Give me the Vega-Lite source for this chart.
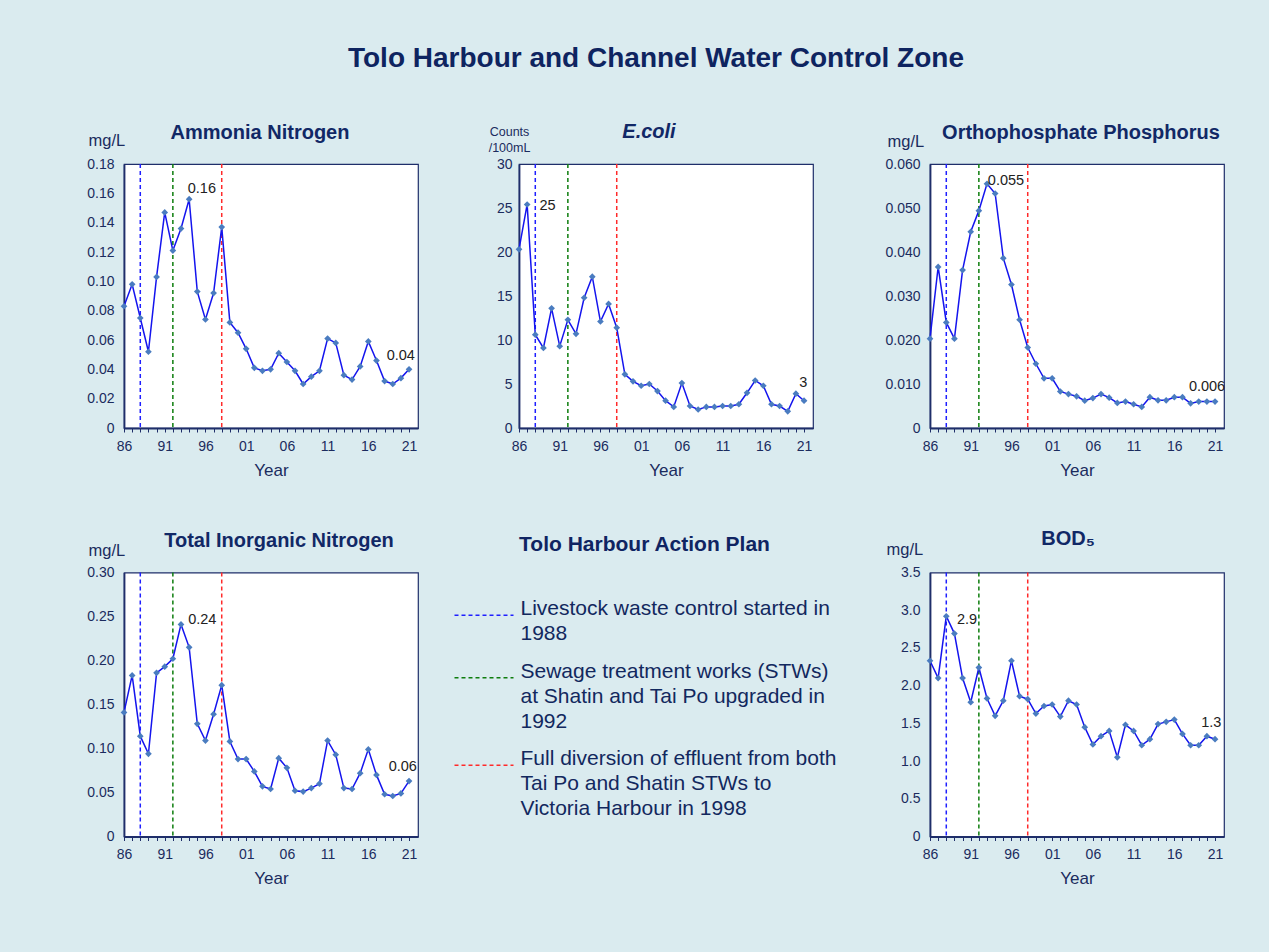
{
  "$schema": "https://vega.github.io/schema/vega-lite/v6.json",
  "background": "#daebef",
  "autosize": {"type": "pad"},
  "padding": {"left": 86, "top": 44, "right": 48, "bottom": 70},
  "title": {"text": "Tolo Harbour and Channel Water Control Zone", "fontSize": 28, "offset": 48.7, "frame": "bounds", "dx": 0, "color": "#0e2460"},
  "datasets": {
    "events": [
      {"year": 1988, "event": "Livestock waste control started in\n1988"},
      {"year": 1992, "event": "Sewage treatment works (STWs)\nat Shatin and Tai Po upgraded in\n1992"},
      {"year": 1998, "event": "Full diversion of effluent from both\nTai Po and Shatin STWs to\nVictoria Harbour in 1998"}
    ],
    "nh3": [
      {"year": 1986, "value": 0.083}, {"year": 1987, "value": 0.098}, {"year": 1988, "value": 0.075}, {"year": 1989, "value": 0.052},
      {"year": 1990, "value": 0.103}, {"year": 1991, "value": 0.147}, {"year": 1992, "value": 0.121}, {"year": 1993, "value": 0.136},
      {"year": 1994, "value": 0.156, "note": "0.16"}, {"year": 1995, "value": 0.093}, {"year": 1996, "value": 0.074}, {"year": 1997, "value": 0.092},
      {"year": 1998, "value": 0.137}, {"year": 1999, "value": 0.072}, {"year": 2000, "value": 0.065}, {"year": 2001, "value": 0.054},
      {"year": 2002, "value": 0.041}, {"year": 2003, "value": 0.039}, {"year": 2004, "value": 0.040}, {"year": 2005, "value": 0.051},
      {"year": 2006, "value": 0.045}, {"year": 2007, "value": 0.039}, {"year": 2008, "value": 0.030}, {"year": 2009, "value": 0.035},
      {"year": 2010, "value": 0.039}, {"year": 2011, "value": 0.061}, {"year": 2012, "value": 0.058}, {"year": 2013, "value": 0.036},
      {"year": 2014, "value": 0.033}, {"year": 2015, "value": 0.042}, {"year": 2016, "value": 0.059}, {"year": 2017, "value": 0.046},
      {"year": 2018, "value": 0.032}, {"year": 2019, "value": 0.030}, {"year": 2020, "value": 0.034}, {"year": 2021, "value": 0.040, "note": "0.04"}
    ],
    "ecoli": [
      {"year": 1986, "value": 20.3}, {"year": 1987, "value": 25.4, "note": "25"}, {"year": 1988, "value": 10.6}, {"year": 1989, "value": 9.1},
      {"year": 1990, "value": 13.6}, {"year": 1991, "value": 9.3}, {"year": 1992, "value": 12.3}, {"year": 1993, "value": 10.7},
      {"year": 1994, "value": 14.8}, {"year": 1995, "value": 17.2}, {"year": 1996, "value": 12.1}, {"year": 1997, "value": 14.1},
      {"year": 1998, "value": 11.4}, {"year": 1999, "value": 6.1}, {"year": 2000, "value": 5.3}, {"year": 2001, "value": 4.8},
      {"year": 2002, "value": 5.0}, {"year": 2003, "value": 4.2}, {"year": 2004, "value": 3.1}, {"year": 2005, "value": 2.4},
      {"year": 2006, "value": 5.1}, {"year": 2007, "value": 2.5}, {"year": 2008, "value": 2.1}, {"year": 2009, "value": 2.4},
      {"year": 2010, "value": 2.4}, {"year": 2011, "value": 2.5}, {"year": 2012, "value": 2.5}, {"year": 2013, "value": 2.7},
      {"year": 2014, "value": 4.0}, {"year": 2015, "value": 5.4}, {"year": 2016, "value": 4.8}, {"year": 2017, "value": 2.7},
      {"year": 2018, "value": 2.5}, {"year": 2019, "value": 1.9}, {"year": 2020, "value": 3.9}, {"year": 2021, "value": 3.1, "note": "3"}
    ],
    "po4": [
      {"year": 1986, "value": 0.0203}, {"year": 1987, "value": 0.0366}, {"year": 1988, "value": 0.0240}, {"year": 1989, "value": 0.0203},
      {"year": 1990, "value": 0.0359}, {"year": 1991, "value": 0.0446}, {"year": 1992, "value": 0.0494}, {"year": 1993, "value": 0.0555, "note": "0.055"},
      {"year": 1994, "value": 0.0533}, {"year": 1995, "value": 0.0386}, {"year": 1996, "value": 0.0326}, {"year": 1997, "value": 0.0246},
      {"year": 1998, "value": 0.0183}, {"year": 1999, "value": 0.0146}, {"year": 2000, "value": 0.0113}, {"year": 2001, "value": 0.0113},
      {"year": 2002, "value": 0.0083}, {"year": 2003, "value": 0.0077}, {"year": 2004, "value": 0.0072}, {"year": 2005, "value": 0.0062},
      {"year": 2006, "value": 0.0068}, {"year": 2007, "value": 0.0077}, {"year": 2008, "value": 0.0069}, {"year": 2009, "value": 0.0057},
      {"year": 2010, "value": 0.0060}, {"year": 2011, "value": 0.0054}, {"year": 2012, "value": 0.0048}, {"year": 2013, "value": 0.0070},
      {"year": 2014, "value": 0.0063}, {"year": 2015, "value": 0.0063}, {"year": 2016, "value": 0.0070}, {"year": 2017, "value": 0.0070},
      {"year": 2018, "value": 0.0056}, {"year": 2019, "value": 0.0060}, {"year": 2020, "value": 0.0060}, {"year": 2021, "value": 0.0060, "note": "0.006"}
    ],
    "tin": [
      {"year": 1986, "value": 0.141}, {"year": 1987, "value": 0.183}, {"year": 1988, "value": 0.114}, {"year": 1989, "value": 0.094},
      {"year": 1990, "value": 0.186}, {"year": 1991, "value": 0.193}, {"year": 1992, "value": 0.202}, {"year": 1993, "value": 0.241, "note": "0.24"},
      {"year": 1994, "value": 0.215}, {"year": 1995, "value": 0.128}, {"year": 1996, "value": 0.109}, {"year": 1997, "value": 0.139},
      {"year": 1998, "value": 0.172}, {"year": 1999, "value": 0.108}, {"year": 2000, "value": 0.088}, {"year": 2001, "value": 0.088},
      {"year": 2002, "value": 0.074}, {"year": 2003, "value": 0.057}, {"year": 2004, "value": 0.054}, {"year": 2005, "value": 0.089},
      {"year": 2006, "value": 0.078}, {"year": 2007, "value": 0.052}, {"year": 2008, "value": 0.051}, {"year": 2009, "value": 0.055},
      {"year": 2010, "value": 0.060}, {"year": 2011, "value": 0.109}, {"year": 2012, "value": 0.093}, {"year": 2013, "value": 0.055},
      {"year": 2014, "value": 0.054}, {"year": 2015, "value": 0.072}, {"year": 2016, "value": 0.099}, {"year": 2017, "value": 0.070},
      {"year": 2018, "value": 0.048}, {"year": 2019, "value": 0.046}, {"year": 2020, "value": 0.049}, {"year": 2021, "value": 0.063, "note": "0.06"}
    ],
    "bod": [
      {"year": 1986, "value": 2.33}, {"year": 1987, "value": 2.10}, {"year": 1988, "value": 2.92, "note": "2.9"}, {"year": 1989, "value": 2.69},
      {"year": 1990, "value": 2.10}, {"year": 1991, "value": 1.78}, {"year": 1992, "value": 2.24}, {"year": 1993, "value": 1.83},
      {"year": 1994, "value": 1.60}, {"year": 1995, "value": 1.80}, {"year": 1996, "value": 2.33}, {"year": 1997, "value": 1.86},
      {"year": 1998, "value": 1.82}, {"year": 1999, "value": 1.63}, {"year": 2000, "value": 1.73}, {"year": 2001, "value": 1.75},
      {"year": 2002, "value": 1.59}, {"year": 2003, "value": 1.80}, {"year": 2004, "value": 1.75}, {"year": 2005, "value": 1.45},
      {"year": 2006, "value": 1.22}, {"year": 2007, "value": 1.33}, {"year": 2008, "value": 1.40}, {"year": 2009, "value": 1.05},
      {"year": 2010, "value": 1.48}, {"year": 2011, "value": 1.40}, {"year": 2012, "value": 1.21}, {"year": 2013, "value": 1.29},
      {"year": 2014, "value": 1.49}, {"year": 2015, "value": 1.52}, {"year": 2016, "value": 1.55}, {"year": 2017, "value": 1.36},
      {"year": 2018, "value": 1.21}, {"year": 2019, "value": 1.21}, {"year": 2020, "value": 1.33}, {"year": 2021, "value": 1.29, "note": "1.3"}
    ]
  },
  "config": {
    "font": "Liberation Sans",
    "view": {"fill": "white", "stroke": "#1f2e6a", "strokeWidth": 1.2},
    "title": {"font": "Liberation Sans", "fontSize": 20, "fontWeight": "bold", "color": "#112866", "baseline": "alphabetic", "frame": "group", "anchor": "middle"},
    "axis": {"domainColor": "#1f2e6a", "domainWidth": 1.8, "tickColor": "#1f2e6a", "tickWidth": 1, "labelColor": "#1b2b5e", "titleColor": "#1b2b5e", "labelFont": "Liberation Sans", "titleFont": "Liberation Sans", "labelFontSize": 14, "titleFontSize": 17, "titleFontWeight": "normal", "grid": false},
    "axisY": {"ticks": false, "labelPadding": 10, "labelOverlap": false, "titleAngle": 0, "titleAlign": "left", "titleBaseline": "alphabetic", "titleFontSize": 16.5},
    "text": {"font": "Liberation Sans", "fontSize": 14.5, "color": "#222222", "baseline": "alphabetic", "align": "center"},
    "legend": {"padding": 0, "titleFont": "Liberation Sans", "titleFontSize": 21, "titleFontWeight": "bold", "titleColor": "#0f2462", "titleAnchor": "middle", "titleLimit": 600, "titlePadding": 30, "labelFont": "Liberation Sans", "labelFontSize": 21, "labelColor": "#12285e", "labelLimit": 600, "labelOffset": 6, "labelBaseline": "alphabetic", "symbolType": "stroke", "symbolSize": 3481, "symbolStrokeWidth": 1.5, "symbolDash": [4, 3], "rowPadding": 2.5, "direction": "vertical"}
  },
  "resolve": {"scale": {"color": "shared"}, "legend": {"color": "shared"}},
  "bounds": "flush",
  "align": "each",
  "columns": 3,
  "spacing": {"column": 101, "row": 144.5},
  "concat": [
    {
      "width": 294, "height": 264,
      "title": {"text": "Ammonia Nitrogen", "dx": -11, "offset": -11.1},
      "encoding": {"x": {"field": "year", "type": "quantitative", "scale": {"domain": [1986, 2022.1], "nice": false, "zero": false}, "axis": {"values": [1986,1987,1988,1989,1990,1991,1992,1993,1994,1995,1996,1997,1998,1999,2000,2001,2002,2003,2004,2005,2006,2007,2008,2009,2010,2011,2012,2013,2014,2015,2016,2017,2018,2019,2020,2021], "tickCount": 100, "labelExpr": "(datum.value - 1986) % 5 == 0 ? slice(format(datum.value, 'd'), 2) : ''", "title": "Year", "titleY": 47.4, "titleBaseline": "alphabetic", "tickSize": 4, "labelPadding": 7, "labelOverlap": false, "labelFlush": false, "labelBound": false}}},
      "layer": [
        {"data": {"name": "events"}, "mark": {"type": "rule", "strokeDash": [4, 3], "strokeWidth": 1.5}, "encoding": {"color": {"field": "event", "type": "nominal", "title": "Tolo Harbour Action Plan", "scale": {"domain": ["Livestock waste control started in\n1988", "Sewage treatment works (STWs)\nat Shatin and Tai Po upgraded in\n1992", "Full diversion of effluent from both\nTai Po and Shatin STWs to\nVictoria Harbour in 1998"], "range": ["#1f1fff", "#0d7d0d", "#ff2a2a"]}, "legend": {"orient": "none", "legendX": 329.5, "legendY": 369.8, "labelExpr": "split(datum.label, '\\n')", "encode": {"labels": {"update": {"lineHeight": {"value": 25}}}}}}}},
        {"data": {"name": "nh3"}, "mark": {"type": "line", "color": "#1414ee", "strokeWidth": 1.5}, "encoding": {"y": {"field": "value", "type": "quantitative", "scale": {"domain": [0, 0.18], "nice": false}, "axis": {"values": [0, 0.02, 0.04, 0.06, 0.08, 0.1, 0.12, 0.14, 0.16, 0.18], "tickCount": 100, "labelOverlap": false, "labelExpr": "datum.value == 0 ? '0' : format(datum.value, '.2f')", "title": "mg/L", "titleX": -36, "titleY": -19}}}},
        {"data": {"name": "nh3"}, "mark": {"type": "point", "shape": "diamond", "filled": true, "size": 45, "color": "#4a7cc0", "opacity": 1}, "encoding": {"y": {"field": "value", "type": "quantitative", "scale": {"domain": [0, 0.18], "nice": false}}}},
        {"data": {"name": "nh3"}, "transform": [{"filter": "datum.year == 1994"}], "mark": {"type": "text", "dx": 12.7, "dy": -6.4}, "encoding": {"y": {"field": "value", "type": "quantitative", "scale": {"domain": [0, 0.18], "nice": false}}, "text": {"field": "note"}}},
        {"data": {"name": "nh3"}, "transform": [{"filter": "datum.year == 2021"}], "mark": {"type": "text", "dx": -8.3, "dy": -9.6}, "encoding": {"y": {"field": "value", "type": "quantitative", "scale": {"domain": [0, 0.18], "nice": false}}, "text": {"field": "note"}}}
      ]
    },
    {
      "width": 294, "height": 264,
      "title": {"text": "E.coli", "dx": -17, "fontStyle": "italic", "offset": -17},
      "encoding": {"x": {"field": "year", "type": "quantitative", "scale": {"domain": [1986, 2022.1], "nice": false, "zero": false}, "axis": {"values": [1986,1987,1988,1989,1990,1991,1992,1993,1994,1995,1996,1997,1998,1999,2000,2001,2002,2003,2004,2005,2006,2007,2008,2009,2010,2011,2012,2013,2014,2015,2016,2017,2018,2019,2020,2021], "tickCount": 100, "labelExpr": "(datum.value - 1986) % 5 == 0 ? slice(format(datum.value, 'd'), 2) : ''", "title": "Year", "titleY": 47.4, "titleBaseline": "alphabetic", "tickSize": 4, "labelPadding": 7, "labelOverlap": false, "labelFlush": false, "labelBound": false}}},
      "layer": [
        {"data": {"name": "events"}, "mark": {"type": "rule", "strokeDash": [4, 3], "strokeWidth": 1.5}, "encoding": {"color": {"field": "event", "type": "nominal", "title": "Tolo Harbour Action Plan", "scale": {"domain": ["Livestock waste control started in\n1988", "Sewage treatment works (STWs)\nat Shatin and Tai Po upgraded in\n1992", "Full diversion of effluent from both\nTai Po and Shatin STWs to\nVictoria Harbour in 1998"], "range": ["#1f1fff", "#0d7d0d", "#ff2a2a"]}, "legend": {"orient": "none", "legendX": 329.5, "legendY": 369.8, "labelExpr": "split(datum.label, '\\n')", "encode": {"labels": {"update": {"lineHeight": {"value": 25}}}}}}}},
        {"data": {"name": "ecoli"}, "mark": {"type": "line", "color": "#1414ee", "strokeWidth": 1.5}, "encoding": {"y": {"field": "value", "type": "quantitative", "scale": {"domain": [0, 30], "nice": false}, "axis": {"values": [0, 5, 10, 15, 20, 25, 30], "tickCount": 100, "format": "d", "labelOverlap": false, "labelPadding": 7, "title": ["Counts", "/100mL"], "titleFontSize": 12.5, "titleLineHeight": 16.5, "titleAlign": "center", "titleX": -10, "titleY": -29}}}},
        {"data": {"name": "ecoli"}, "mark": {"type": "point", "shape": "diamond", "filled": true, "size": 45, "color": "#4a7cc0", "opacity": 1}, "encoding": {"y": {"field": "value", "type": "quantitative", "scale": {"domain": [0, 30], "nice": false}}}},
        {"data": {"name": "ecoli"}, "transform": [{"filter": "datum.year == 1987"}], "mark": {"type": "text", "dx": 20.3, "dy": 5.3}, "encoding": {"y": {"field": "value", "type": "quantitative", "scale": {"domain": [0, 30], "nice": false}}, "text": {"field": "note"}}},
        {"data": {"name": "ecoli"}, "transform": [{"filter": "datum.year == 2021"}], "mark": {"type": "text", "dx": -0.7, "dy": -13.3}, "encoding": {"y": {"field": "value", "type": "quantitative", "scale": {"domain": [0, 30], "nice": false}}, "text": {"field": "note"}}}
      ]
    },
    {
      "width": 294, "height": 264,
      "title": {"text": "Orthophosphate Phosphorus", "dx": 4, "offset": -10.1},
      "encoding": {"x": {"field": "year", "type": "quantitative", "scale": {"domain": [1986, 2022.1], "nice": false, "zero": false}, "axis": {"values": [1986,1987,1988,1989,1990,1991,1992,1993,1994,1995,1996,1997,1998,1999,2000,2001,2002,2003,2004,2005,2006,2007,2008,2009,2010,2011,2012,2013,2014,2015,2016,2017,2018,2019,2020,2021], "tickCount": 100, "labelExpr": "(datum.value - 1986) % 5 == 0 ? slice(format(datum.value, 'd'), 2) : ''", "title": "Year", "titleY": 47.4, "titleBaseline": "alphabetic", "tickSize": 4, "labelPadding": 7, "labelOverlap": false, "labelFlush": false, "labelBound": false}}},
      "layer": [
        {"data": {"name": "events"}, "mark": {"type": "rule", "strokeDash": [4, 3], "strokeWidth": 1.5}, "encoding": {"color": {"field": "event", "type": "nominal", "title": "Tolo Harbour Action Plan", "scale": {"domain": ["Livestock waste control started in\n1988", "Sewage treatment works (STWs)\nat Shatin and Tai Po upgraded in\n1992", "Full diversion of effluent from both\nTai Po and Shatin STWs to\nVictoria Harbour in 1998"], "range": ["#1f1fff", "#0d7d0d", "#ff2a2a"]}, "legend": {"orient": "none", "legendX": 329.5, "legendY": 369.8, "labelExpr": "split(datum.label, '\\n')", "encode": {"labels": {"update": {"lineHeight": {"value": 25}}}}}}}},
        {"data": {"name": "po4"}, "mark": {"type": "line", "color": "#1414ee", "strokeWidth": 1.5}, "encoding": {"y": {"field": "value", "type": "quantitative", "scale": {"domain": [0, 0.06], "nice": false}, "axis": {"values": [0, 0.01, 0.02, 0.03, 0.04, 0.05, 0.06], "tickCount": 100, "labelOverlap": false, "labelExpr": "datum.value == 0 ? '0' : format(datum.value, '.3f')", "title": "mg/L", "titleX": -43, "titleY": -18}}}},
        {"data": {"name": "po4"}, "mark": {"type": "point", "shape": "diamond", "filled": true, "size": 45, "color": "#4a7cc0", "opacity": 1}, "encoding": {"y": {"field": "value", "type": "quantitative", "scale": {"domain": [0, 0.06], "nice": false}}}},
        {"data": {"name": "po4"}, "transform": [{"filter": "datum.year == 1993"}], "mark": {"type": "text", "dx": 19, "dy": 1}, "encoding": {"y": {"field": "value", "type": "quantitative", "scale": {"domain": [0, 0.06], "nice": false}}, "text": {"field": "note"}}},
        {"data": {"name": "po4"}, "transform": [{"filter": "datum.year == 2021"}], "mark": {"type": "text", "dx": -8, "dy": -10.7}, "encoding": {"y": {"field": "value", "type": "quantitative", "scale": {"domain": [0, 0.06], "nice": false}}, "text": {"field": "note"}}}
      ]
    },
    {
      "width": 294, "height": 264,
      "title": {"text": "Total Inorganic Nitrogen", "dx": 8, "offset": -8.1},
      "encoding": {"x": {"field": "year", "type": "quantitative", "scale": {"domain": [1986, 2022.1], "nice": false, "zero": false}, "axis": {"values": [1986,1987,1988,1989,1990,1991,1992,1993,1994,1995,1996,1997,1998,1999,2000,2001,2002,2003,2004,2005,2006,2007,2008,2009,2010,2011,2012,2013,2014,2015,2016,2017,2018,2019,2020,2021], "tickCount": 100, "labelExpr": "(datum.value - 1986) % 5 == 0 ? slice(format(datum.value, 'd'), 2) : ''", "title": "Year", "titleY": 47.4, "titleBaseline": "alphabetic", "tickSize": 4, "labelPadding": 7, "labelOverlap": false, "labelFlush": false, "labelBound": false}}},
      "layer": [
        {"data": {"name": "events"}, "mark": {"type": "rule", "strokeDash": [4, 3], "strokeWidth": 1.5}, "encoding": {"color": {"field": "event", "type": "nominal", "title": "Tolo Harbour Action Plan", "scale": {"domain": ["Livestock waste control started in\n1988", "Sewage treatment works (STWs)\nat Shatin and Tai Po upgraded in\n1992", "Full diversion of effluent from both\nTai Po and Shatin STWs to\nVictoria Harbour in 1998"], "range": ["#1f1fff", "#0d7d0d", "#ff2a2a"]}, "legend": {"orient": "none", "legendX": 329.5, "legendY": 369.8, "labelExpr": "split(datum.label, '\\n')", "encode": {"labels": {"update": {"lineHeight": {"value": 25}}}}}}}},
        {"data": {"name": "tin"}, "mark": {"type": "line", "color": "#1414ee", "strokeWidth": 1.5}, "encoding": {"y": {"field": "value", "type": "quantitative", "scale": {"domain": [0, 0.3], "nice": false}, "axis": {"values": [0, 0.05, 0.1, 0.15, 0.2, 0.25, 0.3], "tickCount": 100, "labelOverlap": false, "labelExpr": "datum.value == 0 ? '0' : format(datum.value, '.2f')", "title": "mg/L", "titleX": -36, "titleY": -17}}}},
        {"data": {"name": "tin"}, "mark": {"type": "point", "shape": "diamond", "filled": true, "size": 45, "color": "#4a7cc0", "opacity": 1}, "encoding": {"y": {"field": "value", "type": "quantitative", "scale": {"domain": [0, 0.3], "nice": false}}}},
        {"data": {"name": "tin"}, "transform": [{"filter": "datum.year == 1993"}], "mark": {"type": "text", "dx": 21.3, "dy": -0.7}, "encoding": {"y": {"field": "value", "type": "quantitative", "scale": {"domain": [0, 0.3], "nice": false}}, "text": {"field": "note"}}},
        {"data": {"name": "tin"}, "transform": [{"filter": "datum.year == 2021"}], "mark": {"type": "text", "dx": -6.3, "dy": -10.3}, "encoding": {"y": {"field": "value", "type": "quantitative", "scale": {"domain": [0, 0.3], "nice": false}}, "text": {"field": "note"}}}
      ]
    },
    {
      "width": 309.7, "height": 264,
      "view": {"fill": "transparent", "stroke": "transparent"},
      "data": {"name": "events"},
      "mark": {"type": "text", "text": ""},
      "encoding": {}
    },
    {
      "width": 294, "height": 264,
      "title": {"text": "BOD₅", "dx": -9, "offset": -7.8},
      "encoding": {"x": {"field": "year", "type": "quantitative", "scale": {"domain": [1986, 2022.1], "nice": false, "zero": false}, "axis": {"values": [1986,1987,1988,1989,1990,1991,1992,1993,1994,1995,1996,1997,1998,1999,2000,2001,2002,2003,2004,2005,2006,2007,2008,2009,2010,2011,2012,2013,2014,2015,2016,2017,2018,2019,2020,2021], "tickCount": 100, "labelExpr": "(datum.value - 1986) % 5 == 0 ? slice(format(datum.value, 'd'), 2) : ''", "title": "Year", "titleY": 47.4, "titleBaseline": "alphabetic", "tickSize": 4, "labelPadding": 7, "labelOverlap": false, "labelFlush": false, "labelBound": false}}},
      "layer": [
        {"data": {"name": "events"}, "mark": {"type": "rule", "strokeDash": [4, 3], "strokeWidth": 1.5}, "encoding": {"color": {"field": "event", "type": "nominal", "title": "Tolo Harbour Action Plan", "scale": {"domain": ["Livestock waste control started in\n1988", "Sewage treatment works (STWs)\nat Shatin and Tai Po upgraded in\n1992", "Full diversion of effluent from both\nTai Po and Shatin STWs to\nVictoria Harbour in 1998"], "range": ["#1f1fff", "#0d7d0d", "#ff2a2a"]}, "legend": {"orient": "none", "legendX": 329.5, "legendY": 369.8, "labelExpr": "split(datum.label, '\\n')", "encode": {"labels": {"update": {"lineHeight": {"value": 25}}}}}}}},
        {"data": {"name": "bod"}, "mark": {"type": "line", "color": "#1414ee", "strokeWidth": 1.5}, "encoding": {"y": {"field": "value", "type": "quantitative", "scale": {"domain": [0, 3.5], "nice": false}, "axis": {"values": [0, 0.5, 1, 1.5, 2, 2.5, 3, 3.5], "tickCount": 100, "labelOverlap": false, "labelExpr": "datum.value == 0 ? '0' : format(datum.value, '.1f')", "title": "mg/L", "titleX": -44, "titleY": -18}}}},
        {"data": {"name": "bod"}, "mark": {"type": "point", "shape": "diamond", "filled": true, "size": 45, "color": "#4a7cc0", "opacity": 1}, "encoding": {"y": {"field": "value", "type": "quantitative", "scale": {"domain": [0, 3.5], "nice": false}}}},
        {"data": {"name": "bod"}, "transform": [{"filter": "datum.year == 1988"}], "mark": {"type": "text", "dx": 20.7, "dy": 7.7}, "encoding": {"y": {"field": "value", "type": "quantitative", "scale": {"domain": [0, 3.5], "nice": false}}, "text": {"field": "note"}}},
        {"data": {"name": "bod"}, "transform": [{"filter": "datum.year == 2021"}], "mark": {"type": "text", "dx": -3.7, "dy": -11.7}, "encoding": {"y": {"field": "value", "type": "quantitative", "scale": {"domain": [0, 3.5], "nice": false}}, "text": {"field": "note"}}}
      ]
    }
  ]
}
